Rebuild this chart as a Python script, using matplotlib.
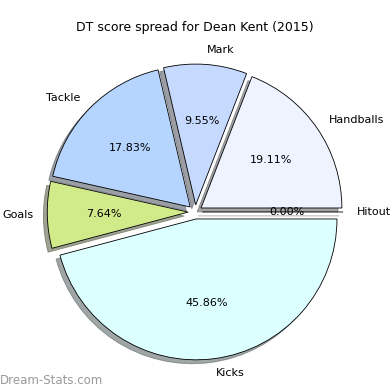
import matplotlib
matplotlib.use("Agg")
import matplotlib.pyplot as plt

labels = ["Hitout", "Handballs", "Mark", "Tackle", "Goals", "Kicks"]
values = [0.0, 19.11, 9.55, 17.83, 7.64, 45.86]
colors = ["#FFFFFF", "#EEF3FF", "#C6D9FF", "#B5D5FF", "#D2EB8A", "#DCFFFF"]

fig = plt.figure(figsize=(3.9, 3.9), dpi=100)
ax = fig.add_axes([0.049, 0.005, 0.903, 0.903])
explode = [0.05] * len(values)
wedges, texts, autotexts = ax.pie(
    values, labels=labels, colors=colors, explode=explode, shadow=True,
    autopct="%1.2f%%", startangle=0, labeldistance=1.1, pctdistance=0.6,
    wedgeprops=dict(edgecolor="black", linewidth=0.6),
    textprops=dict(fontsize=8),
)
ax.set_aspect("equal")
fig.text(0.5, 1 - 27 / 390, "DT score spread for Dean Kent (2015)", ha="center", va="center", fontsize=9)
fig.text(0.0, 1 - 380 / 390, "Dream-Stats.com", ha="left", va="center", fontsize=8.5, color="#999999")
fig.savefig("out.png", dpi=100)
